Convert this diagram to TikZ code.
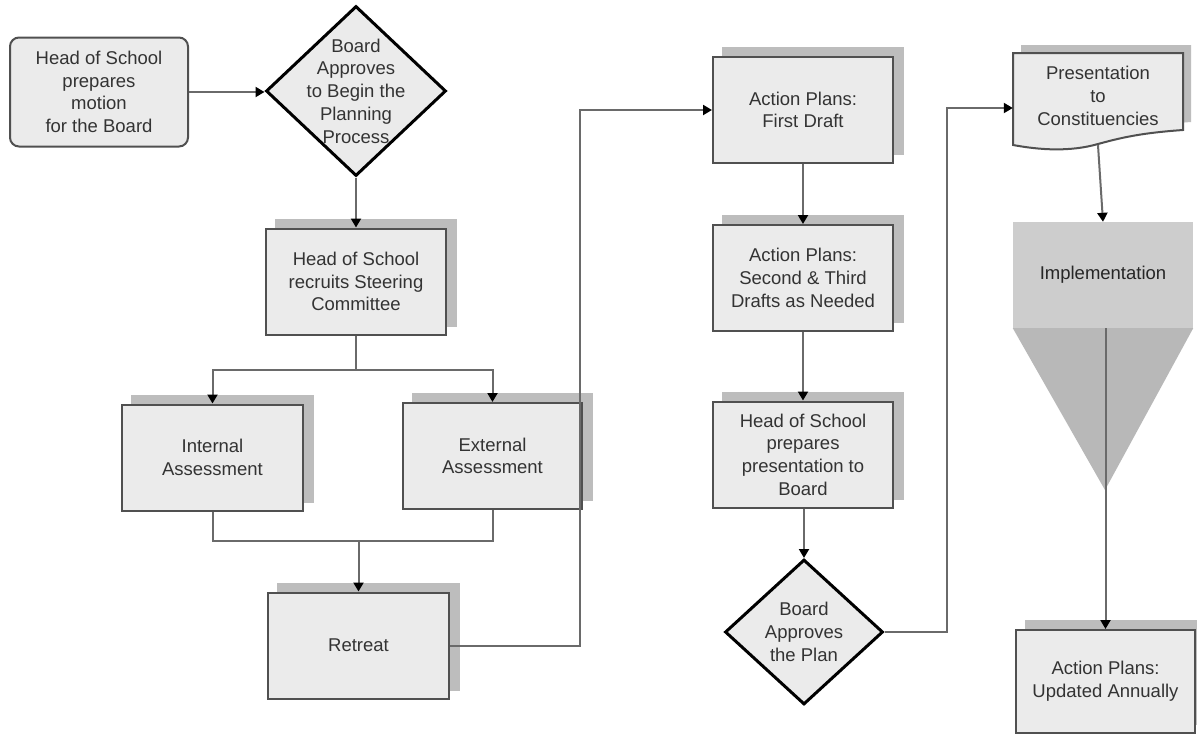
\documentclass[tikz,border=0pt]{standalone}
\usepackage{fontspec}
\setmainfont{Liberation Sans}
\usetikzlibrary{shapes.geometric,arrows.meta,shadows}
\definecolor{boxfill}{HTML}{EBEBEB}
\definecolor{shadowgray}{HTML}{BDBDBD}
\definecolor{edgegray}{HTML}{505050}
\definecolor{linegray}{HTML}{6A6A6A}
\definecolor{txtgray}{HTML}{333333}
\definecolor{implfill}{HTML}{CDCDCD}
\definecolor{trifill}{HTML}{B8B8B8}
\begin{document}
\begin{tikzpicture}[x=1pt,y=-1pt,
  every node/.style={font=\fontsize{18.5}{22.7}\selectfont, text=txtgray, align=center},
  stepbox/.style={rectangle, draw=edgegray, line width=2pt, fill=boxfill,
    minimum width=180pt, minimum height=106pt, inner sep=0pt,
    copy shadow={shadow xshift=10pt, shadow yshift=9pt, fill=shadowgray, draw=shadowgray}},
  roundbox/.style={rectangle, rounded corners=9pt, draw=edgegray, line width=2pt, fill=boxfill,
    minimum width=178pt, minimum height=109pt, inner sep=0pt},
  dia/.style={diamond, draw=black, line width=3pt, fill=boxfill, inner sep=0pt},
  conn/.style={draw=linegray, line width=2pt},
  arr/.style={conn, -{Triangle[length=9pt,width=10pt,color=black]}}
]
\useasboundingbox (0,0) rectangle (1197,734);
\fill[white] (0,0) rectangle (1197,734);

% left column
\node[roundbox] (h1) at (99,92) {Head of School\\prepares\\motion\\for the Board};
\node[dia, minimum width=180pt, minimum height=170pt] (d1) at (356,91) {};
\node at (d1) {Board\\Approves\\to Begin the\\Planning\\Process};
\node[stepbox] (steer) at (356,281.5) {Head of School\\recruits Steering\\Committee};
\node[stepbox, minimum width=181pt] (int) at (212.5,457.5) {Internal\\Assessment};
\node[stepbox, minimum width=179pt] (ext) at (492.5,456) {External\\Assessment};
\node[stepbox, minimum width=181pt] (ret) at (358.5,645.5) {Retreat};

% middle column
\node[stepbox] (fd) at (803,110) {Action Plans:\\First Draft};
\node[stepbox] (st) at (803,278) {Action Plans:\\Second \& Third\\Drafts as Needed};
\node[stepbox] (hp) at (803,454.5) {Head of School\\prepares\\presentation to\\Board};
\node[dia, minimum width=158pt, minimum height=145pt] (d2) at (804,632) {};
\node at (d2) {Board\\Approves\\the Plan};

% right column
\node[minimum width=170pt, minimum height=92pt, inner sep=0pt] (pres) at (1098,99) {};
\fill[shadowgray, shift={(8,-8)}] (1013,53) -- (1183,53) -- (1183,130)
  .. controls (1140,133) and (1120,138) .. (1098,144)
  .. controls (1070,152) and (1040,150) .. (1013,145) -- cycle;
\draw[edgegray, line width=2pt, fill=boxfill] (1013,53) -- (1183,53) -- (1183,130)
  .. controls (1140,133) and (1120,138) .. (1098,144)
  .. controls (1070,152) and (1040,150) .. (1013,145) -- cycle;
\node at (1098,96) {Presentation\\to\\Constituencies};

\node[fill=implfill, minimum width=180pt, minimum height=106pt, inner sep=0pt, text=black!85] (impl) at (1103,275) {Implementation};
\fill[trifill] (impl.south west) -- (impl.south east) -- (1105,490) -- cycle;
\node[stepbox, minimum height=103pt, minimum width=179pt] (upd) at (1105.5,681.5) {Action Plans:\\Updated Annually};

% connectors
\draw[arr] (h1.east) -- (h1.east -| d1.west);
\draw[arr] (d1.south) -- (steer.north);
\coordinate (split) at (356,370);
\draw[conn] (steer.south) -- (split);
\draw[arr] (split) -| (int.north);
\draw[arr] (split) -| (ext.north);
\coordinate (join) at (358.5,541);
\draw[conn] (int.south) |- (join);
\draw[conn] (ext.south) |- (join);
\draw[arr] (join) -- (ret.north);
\coordinate (r1) at (580,110);
\draw[arr] (ret.east) -- (ret.east -| r1) -- (r1) -- (fd.west);
\draw[arr] (fd.south) -- (st.north);
\draw[arr] (st.south) -- (hp.north);
\draw[arr] (hp.south -| d2.north) -- (d2.north);
\coordinate (r2) at (947,108);
\draw[arr] (d2.east) -| (r2) -- (r2 -| pres.west);
\draw[arr] (pres.south) -- (impl.north);
\draw[arr] (upd.north |- impl.south) -- (upd.north);
\end{tikzpicture}
\end{document}
